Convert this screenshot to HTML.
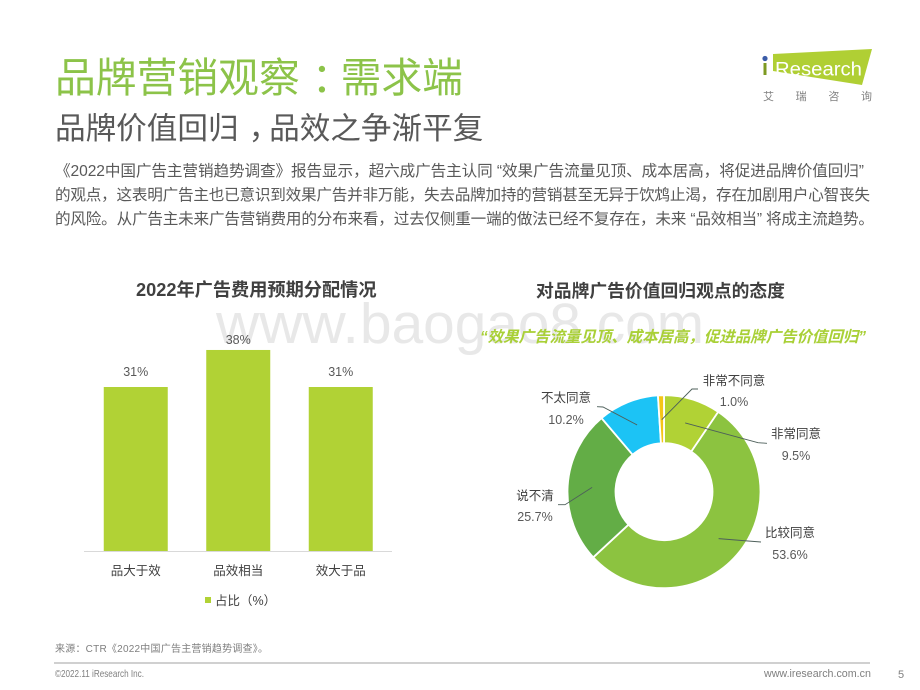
<!DOCTYPE html>
<html lang="zh">
<head>
<meta charset="utf-8">
<title>品牌营销观察&#xFF1A;需求端</title>
<style>
html,body{margin:0;padding:0;background:#fff;}
#slide{display:block;width:920px;height:690px;font-family:"Liberation Sans","Noto Sans CJK SC",sans-serif;}
</style>
</head>
<body>
<svg id="slide" xmlns="http://www.w3.org/2000/svg" width="920" height="690" viewBox="0 0 920 690">
  <g font-size="57" fill="#e8e8e8" font-family="'Liberation Sans',sans-serif">
    <text x="216" y="343" textLength="143" lengthAdjust="spacingAndGlyphs">www.</text>
    <text x="360" y="343" textLength="344" lengthAdjust="spacingAndGlyphs">baogao8.com</text>
  </g>

  <text x="55" y="92" font-size="40.8" fill="#8cc349">品牌营销观察<tspan dx="12">&#xFF1A;</tspan><tspan dx="-12">需求端</tspan></text>
  <text x="55" y="139" font-size="30.6" fill="#595959">品牌价值回归<tspan dx="10">&#xFF0C;</tspan><tspan dx="-10">品效之争渐平复</tspan></text>

  <g font-size="15.6" fill="#595959">
    <text x="55" y="176" textLength="809">《2022中国广告主营销趋势调查》报告显示&#xFF0C;超六成广告主认同 “效果广告流量见顶、成本居高&#xFF0C;将促进品牌价值回归”</text>
    <text x="55" y="200" textLength="815">的观点&#xFF0C;这表明广告主也已意识到效果广告并非万能&#xFF0C;失去品牌加持的营销甚至无异于饮鸩止渴&#xFF0C;存在加剧用户心智丧失</text>
    <text x="55" y="224" textLength="819">的风险。从广告主未来广告营销费用的分布来看&#xFF0C;过去仅侧重一端的做法已经不复存在&#xFF0C;未来 “品效相当” 将成主流趋势。</text>
  </g>

  <g>
    <polygon points="773,54 872,49 862,85 773,71" fill="#b0cf34"/>
    <circle cx="765" cy="58.5" r="2.6" fill="#3b5ca8"/>
    <rect x="763.5" y="63" width="3" height="12" fill="#7d9a22"/>
    <text x="775" y="75.5" font-size="19" fill="#ffffff" textLength="87" lengthAdjust="spacingAndGlyphs">Research</text>
    <text x="763" y="100" font-size="11" fill="#808080" textLength="109">艾瑞咨询</text>
  </g>

  <text x="136" y="296" font-size="18.2" font-weight="bold" fill="#404040">2022年广告费用预期分配情况</text>
  <text x="536" y="297" font-size="17.8" font-weight="bold" fill="#404040">对品牌广告价值回归观点的态度</text>
  <text x="480" y="342" font-size="15.5" font-weight="bold" font-style="italic" fill="#a9d037" textLength="386">“效果广告流量见顶、成本居高&#xFF0C;促进品牌广告价值回归”</text>

  <g id="bar-chart"></g>
  <g id="donut-chart"></g>

  <text x="55" y="652" font-size="10" fill="#7f7f7f" textLength="213">来源&#xFF1A;CTR《2022中国广告主营销趋势调查》。</text>
  <line x1="54" y1="663" x2="870" y2="663" stroke="#b5b5b5" stroke-width="1.2"/>
  <text x="55" y="677" font-size="10.5" fill="#7f7f7f" textLength="89" lengthAdjust="spacingAndGlyphs">©2022.11 iResearch Inc.</text>
  <text x="764" y="677" font-size="10.7" fill="#7f7f7f">www.iresearch.com.cn</text>
  <text x="901" y="678" font-size="11" fill="#7f7f7f" text-anchor="middle">5</text>
</svg>
<script>
const barCategories = ['品大于效', '品效相当', '效大于品'];
const barValues = [31, 38, 31];
const barValueLabels = ['31%', '38%', '31%'];
const barSeriesName = '占比\uFF08%\uFF09';
const donutCategories = ['非常同意', '比较同意', '说不清', '不太同意', '非常不同意'];
const donutValues = [9.5, 53.6, 25.7, 10.2, 1.0];
const donutValueLabels = ['9.5%', '53.6%', '25.7%', '10.2%', '1.0%'];

const NS = 'http://www.w3.org/2000/svg';
function make(parent, tag, attrs, text) {
  const el = document.createElementNS(NS, tag);
  for (const k in attrs) el.setAttribute(k, attrs[k]);
  if (text !== undefined) el.textContent = text;
  parent.appendChild(el);
  return el;
}

function drawBars() {
  const root = document.getElementById('bar-chart');
  const baseY = 551, bandStart = 84.5, bandStep = 102.5, barW = 64;
  const yScale = v => baseY - v * (164 / 31);
  const xScale = i => bandStart + bandStep * i + bandStep / 2;
  barValues.forEach((v, i) => {
    const cx = xScale(i);
    const bar = make(root, 'rect', {x: cx - barW / 2, y: yScale(v), width: barW, height: baseY - yScale(v), fill: '#b1d235'});
    
    
    const val = make(root, 'text', {x: cx, y: Math.max(yScale(v) - 11, 344), 'font-size': 12.5, fill: '#595959', 'text-anchor': 'middle'}, barValueLabels[i]);
    
    
    const cat = make(root, 'text', {x: cx, y: 575, 'font-size': 12.5, fill: '#404040', 'text-anchor': 'middle'}, barCategories[i]);
    
    
  });
  const axis = make(root, 'line', {x1: 84, x2: 392, y1: baseY + 0.5, y2: baseY + 0.5, stroke: '#d9d9d9', 'stroke-width': 1});
  
  
  const swatch = make(root, 'rect', {x: 205, y: 597, width: 6, height: 6, fill: '#b1d235'});
  
  
  const legend = make(root, 'text', {x: 215, y: 605, 'font-size': 12.5, fill: '#404040'}, barSeriesName);
  
  
}

function drawDonut() {
  const root = document.getElementById('donut-chart');
  const cx = 664, cy = 491.7, rOuter = 96.5, rInner = 48.5, rLeader = 72;
  const colors = ['#b1d235', '#8cc340', '#63ad46', '#1cc3f5', '#f5c518'];
  const labelLayout = [
    {elbow: [758, 442.7], end: [767, 443.3], tx: 796, ty: 438, ty2: 460},
    {elbow: [748, 541], end: [761, 542], tx: 790, ty: 537, ty2: 559},
    {elbow: [565, 504.7], end: [558, 504.7], tx: 535, ty: 500, ty2: 521},
    {elbow: [603, 407], end: [597, 406.7], tx: 566, ty: 402, ty2: 424},
    {elbow: [692, 389], end: [698, 389], tx: 734, ty: 385, ty2: 406}
  ];
  const total = donutValues.reduce((a, b) => a + b, 0);
  const polar = (r, frac) => {
    const a = frac * 2 * Math.PI;
    return [cx + r * Math.sin(a), cy - r * Math.cos(a)];
  };
  let acc = 0;
  donutValues.forEach((v, i) => {
    const f0 = acc / total, f1 = (acc + v) / total;
    acc += v;
    const large = f1 - f0 > 0.5 ? 1 : 0;
    const p0 = polar(rOuter, f0), p1 = polar(rOuter, f1), p2 = polar(rInner, f1), p3 = polar(rInner, f0);
    const slice = make(root, 'path', {
      d: `M${p0[0]} ${p0[1]}A${rOuter} ${rOuter} 0 ${large} 1 ${p1[0]} ${p1[1]}L${p2[0]} ${p2[1]}A${rInner} ${rInner} 0 ${large} 0 ${p3[0]} ${p3[1]}Z`,
      fill: colors[i], stroke: '#ffffff', 'stroke-width': 1.8
    });
    
    
  });
  acc = 0;
  donutValues.forEach((v, i) => {
    const mid = (acc + v / 2) / total;
    acc += v;
    const s = polar(rLeader, mid), lay = labelLayout[i];
    const leader = make(root, 'polyline', {
      points: `${s[0]},${s[1]} ${lay.elbow[0]},${lay.elbow[1]} ${lay.end[0]},${lay.end[1]}`,
      fill: 'none', stroke: '#4d5f5a', 'stroke-width': 0.9
    });
    
    
    const name = make(root, 'text', {x: lay.tx, y: lay.ty, 'font-size': 12.5, fill: '#404040', 'text-anchor': 'middle'}, donutCategories[i]);
    
    
    const val = make(root, 'text', {x: lay.tx, y: lay.ty2, 'font-size': 12.5, fill: '#595959', 'text-anchor': 'middle'}, donutValueLabels[i]);
    
    
  });
}

drawBars();
drawDonut();
</script>
</body>
</html>
